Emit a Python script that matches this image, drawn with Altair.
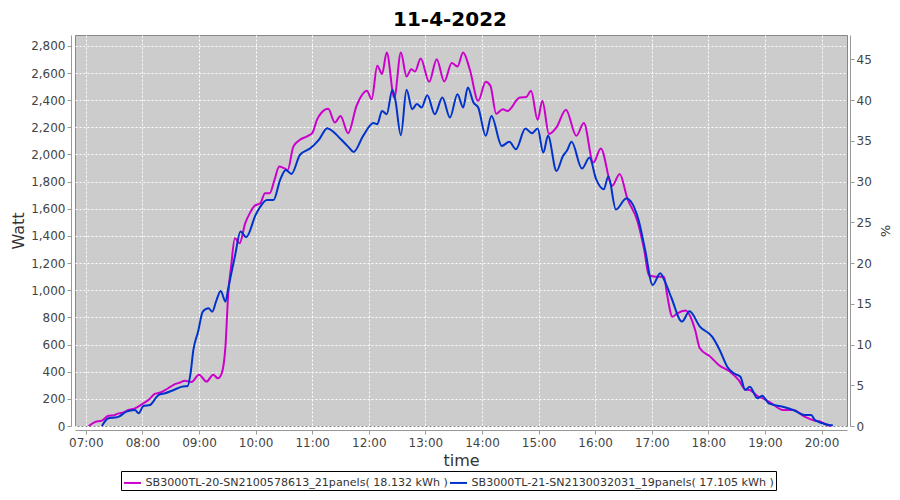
import altair as alt
import pandas as pd

# ---- data ----
a_times = ["07:03","07:10","07:17","07:24","07:30","07:35","07:40","07:45","07:52","08:00",
           "08:07","08:13","08:18","08:24","08:30","08:35","08:40","08:45","08:52","09:00",
           "09:08","09:15","09:20","09:24","09:28","09:31","09:34","09:38","09:43","09:49",
           "09:54","09:59","10:05","10:10","10:15","10:20","10:25","10:30","10:34","10:40",
           "10:47","10:54","11:00","11:05","11:10","11:17","11:24","11:30","11:38","11:47",
           "11:58","12:03","12:09","12:14","12:19","12:27","12:34","12:40","12:45","12:49",
           "12:55","13:04","13:12","13:20","13:28","13:34","13:40","13:47","13:56","14:04",
           "14:09","14:15","14:22","14:27","14:40","14:47","14:52","14:59","15:04","15:11",
           "15:19","15:29","15:40","15:48","15:58","16:06","16:18","16:26","16:34","16:45",
           "16:52","16:57","17:04","17:13","17:16","17:22","17:27","17:36","17:41","17:46",
           "17:51","18:02","18:11","18:23","18:32","18:39","18:44","18:53","18:58","19:07",
           "19:19","19:30","19:42","19:53","19:59","20:06","20:10"]
a_watts = [0,30,40,76,80,93,100,118,130,162,
           195,236,245,265,290,310,320,334,324,378,
           327,378,351,388,585,978,1174,1383,1346,1494,
           1570,1623,1641,1715,1715,1813,1911,1899,1886,2058,
           2108,2132,2157,2255,2309,2336,2235,2284,2157,2358,
           2469,2407,2653,2592,2751,2419,2751,2574,2628,2611,
           2707,2535,2702,2537,2673,2648,2751,2628,2395,2535,
           2505,2300,2334,2321,2419,2424,2469,2255,2395,2150,
           2199,2329,2137,2231,1940,2044,1769,1857,1678,1505,
           1297,1108,1100,1100,978,805,830,850,805,707,
           572,511,450,400,339,270,265,216,204,167,
           118,118,69,39,32,7,0]

b_times = ["07:17","07:24","07:30","07:35","07:43","07:52","07:56","08:01","08:08","08:17",
           "08:24","08:33","08:42","08:48","08:51","08:54","08:59","09:04","09:10","09:14",
           "09:18","09:23","09:28","09:31","09:35","09:38","09:44","09:50","10:00","10:05",
           "10:12","10:19","10:26","10:32","10:38","10:47","10:58","11:07","11:16","11:22",
           "11:31","11:38","11:44","11:54","12:05","12:09","12:14","12:19","12:25","12:28",
           "12:34","12:40","12:46","12:51","12:56","13:02","13:10","13:18","13:26","13:34",
           "13:40","13:45","13:51","13:56","14:04","14:10","14:21","14:29","14:36","14:46",
           "14:53","14:59","15:05","15:10","15:19","15:26","15:30","15:35","15:46","15:54",
           "16:01","16:09","16:14","16:22","16:33","16:46","16:53","17:01","17:09","17:14",
           "17:21","17:32","17:40","17:51","18:04","18:12","18:20","18:27","18:34","18:39",
           "18:44","18:52","18:57","19:04","19:19","19:30","19:42","19:49","19:53","20:01",
           "20:08","20:12"]
b_watts = [0,57,62,69,106,118,93,147,155,228,
           241,265,290,295,388,560,695,842,867,842,
           916,995,916,1015,1150,1248,1432,1391,1555,1616,
           1665,1665,1813,1886,1857,1997,2046,2108,2194,2169,
           2108,2058,2019,2137,2231,2223,2321,2297,2476,2407,
           2142,2476,2334,2371,2346,2437,2297,2419,2272,2444,
           2346,2493,2382,2346,2137,2284,2063,2093,2039,2191,
           2157,2191,2014,2137,1879,1990,2027,2093,1896,1977,
           1818,1744,1837,1595,1676,1518,1297,1039,1125,1063,
           941,769,845,732,658,560,437,388,363,265,
           290,204,223,167,142,118,81,81,44,20,
           7,5]

series_names = ["SB3000TL-20-SN2100578613_21panels( 18.132 kWh )",
                "SB3000TL-21-SN2130032031_19panels( 17.105 kWh )"]
series_colors = ["#CC00CC", "#0033CC"]
hour_ticks = list(range(7, 21))
watt_ticks = list(range(0, 2801, 200))
pct_ticks = [0, 5, 10, 15, 20, 25, 30, 35, 40, 45]
day = "2022-04-11"

rows = []
for t, w in zip(a_times, a_watts):
    rows.append({"time": f"{day}T{t}:00", "watt": w, "series": series_names[0]})
for t, w in zip(b_times, b_watts):
    rows.append({"time": f"{day}T{t}:00", "watt": w, "series": series_names[1]})
df = pd.DataFrame(rows)
pct_df = pd.DataFrame({"pct": pct_ticks})

FONT = "DejaVu Sans"


def dt(h, m=0, s=0):
    return alt.DateTime(year=2022, month=4, date=11, hours=h, minutes=m, seconds=s)


x_enc = alt.X(
    "time:T",
    title="time",
    scale=alt.Scale(domain=[dt(6, 48, 30), dt(20, 27)]),
    axis=alt.Axis(format="%H:%M", values=[dt(h) for h in hour_ticks],
                  offset=4, labelPadding=3, titlePadding=4,
                  titleFontSize=16, titleColor="#333333"),
)

lines = alt.Chart(df).mark_line(strokeWidth=2, interpolate="monotone").encode(
    x=x_enc,
    y=alt.Y("watt:Q", title="Watt",
            scale=alt.Scale(domain=[0, 2880], nice=False, zero=False),
            axis=alt.Axis(values=watt_ticks, format=",d", offset=4,
                          titleFontSize=16, titleColor="#333333", titlePadding=4)),
    color=alt.Color("series:N", title=None,
                    scale=alt.Scale(domain=series_names, range=series_colors),
                    legend=alt.Legend(orient="none", legendX=46, legendY=436,
                                      direction="horizontal", symbolType="stroke",
                                      symbolStrokeWidth=2, symbolSize=290,
                                      labelFont=FONT, labelFontSize=11.1,
                                      labelColor="#333333", labelLimit=500,
                                      labelOffset=3, columnPadding=-10, padding=1.5,
                                      strokeColor="black", fillColor="white")),
)

right_axis = alt.Chart(pct_df).mark_point(opacity=0).encode(
    x=alt.value(10),
    y=alt.Y("pct:Q", title="%",
            scale=alt.Scale(domain=[0, 48], nice=False),
            axis=alt.Axis(orient="right", values=pct_ticks, offset=3, grid=False,
                          titleFontSize=13, titleColor="#333333", titlePadding=6)),
)

chart = alt.layer(lines, right_axis).resolve_scale(y="independent").properties(
    width=772, height=391,
    autosize=alt.AutoSizeParams(type="none"),
    padding={"left": 67, "top": 27, "right": 45, "bottom": 66},
    title=alt.TitleParams("11-4-2022", font=FONT, fontSize=20, fontWeight="bold",
                          color="black", anchor="middle", frame="group", dx=-11, offset=5),
).configure_view(
    fill="#CCCCCC", stroke="#888888", strokeWidth=1
).configure_axis(
    labelFont=FONT, labelFontSize=12, labelColor="#444444",
    titleFont=FONT, titleFontWeight="normal",
    gridColor="white", gridDash=[2, 2], gridWidth=1, gridOpacity=1,
    domainColor="#999999", tickColor="#999999", tickSize=4,
)

chart.save("out.html", embed_options={"renderer": "svg", "actions": False})
